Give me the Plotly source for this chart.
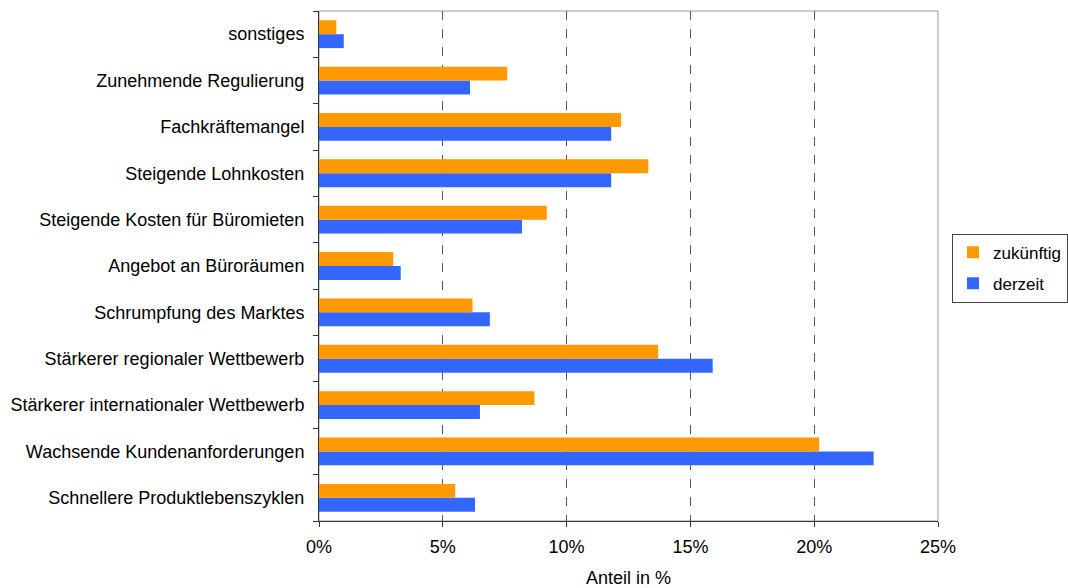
import plotly.graph_objects as go

# Categories listed bottom to top as they appear on the y axis
categories = [
    "Schnellere Produktlebenszyklen",
    "Wachsende Kundenanforderungen",
    "Stärkerer internationaler Wettbewerb",
    "Stärkerer regionaler Wettbewerb",
    "Schrumpfung des Marktes",
    "Angebot an Büroräumen",
    "Steigende Kosten für Büromieten",
    "Steigende Lohnkosten",
    "Fachkräftemangel",
    "Zunehmende Regulierung",
    "sonstiges",
]

# Shares in percent
derzeit = [6.3, 22.4, 6.5, 15.9, 6.9, 3.3, 8.2, 11.8, 11.8, 6.1, 1.0]
zukuenftig = [5.5, 20.2, 8.7, 13.7, 6.2, 3.0, 9.2, 13.3, 12.2, 7.6, 0.7]

x_ticks = [0, 5, 10, 15, 20, 25]
x_tick_labels = ["0%", "5%", "10%", "15%", "20%", "25%"]

fig = go.Figure()
fig.add_trace(go.Bar(
    y=categories, x=derzeit, orientation="h", name="derzeit",
    legendgroup="a", legendrank=2,
    marker=dict(color="#3366FF", line=dict(width=0)),
))
fig.add_trace(go.Bar(
    y=categories, x=zukuenftig, orientation="h", name="zukünftig",
    legendgroup="b", legendrank=1,
    marker=dict(color="#FF9900", line=dict(width=0)),
))

font = dict(family="Liberation Sans, Arial, sans-serif", size=18, color="#000000")

fig.update_layout(
    width=1068, height=588,
    margin=dict(l=319, r=130, t=11, b=67, autoexpand=False),
    paper_bgcolor="white", plot_bgcolor="white",
    barmode="group", bargap=0.4, bargroupgap=0,
    font=font,
    showlegend=True,
    legend=dict(
        xref="container", yref="container",
        x=0.8914, y=0.544, xanchor="left", yanchor="middle",
        traceorder="grouped", tracegroupgap=6,
        bordercolor="#444444", borderwidth=1, bgcolor="white",
        font=dict(family="Liberation Sans, Arial, sans-serif", size=17),
        itemwidth=30,
    ),
    shapes=[dict(
        type="rect", xref="paper", yref="paper", x0=0, x1=1, y0=0, y1=1,
        line=dict(color="#9a9a9a", width=1), layer="below",
    )],
)

fig.update_xaxes(
    range=[0, 25], tickvals=x_ticks, ticktext=x_tick_labels,
    showgrid=True, gridcolor="#555555", griddash="dash", gridwidth=1,
    zeroline=False,
    showline=True, linecolor="#333333", linewidth=1,
    ticks="outside", ticklen=5, tickcolor="#333333",
    ticklabelstandoff=4,
    title=dict(text="Anteil in %", standoff=16,
               font=dict(family="Liberation Sans, Arial, sans-serif", size=18)),
    tickfont=font,
)
fig.update_yaxes(
    categoryorder="array", categoryarray=categories,
    showgrid=False, zeroline=False,
    showline=True, linecolor="#333333", linewidth=1,
    ticks="outside", ticklen=5, tickcolor="#333333", tickson="boundaries",
    ticklabelstandoff=10,
    tickfont=font,
)

fig.write_html("out.html")
